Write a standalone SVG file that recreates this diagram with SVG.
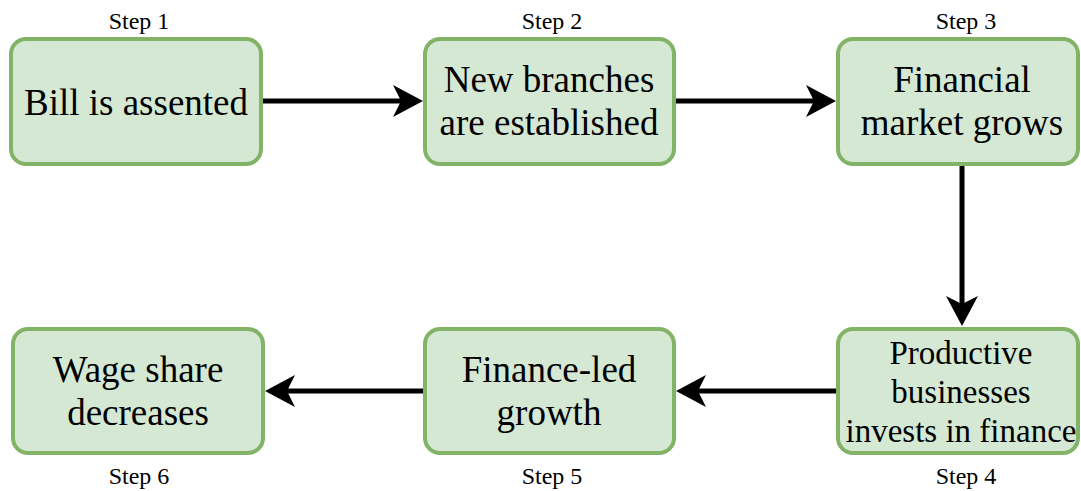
<svg xmlns="http://www.w3.org/2000/svg" width="1081" height="491" viewBox="0 0 1081 491">
<defs>
<style>
.box{fill:#d5e8d4;stroke:#82b366;stroke-width:4}
text{fill:#000;text-anchor:middle}
.t{font-size:37px}
.t4{font-size:33px}
.s{font-size:24px}
.c{stroke:#000;stroke-width:5;fill:none}
</style>
<marker id="ah" viewBox="0 0 30 32" refX="8" refY="16" markerWidth="30" markerHeight="32" markerUnits="userSpaceOnUse" orient="auto">
<path d="M30,16 L0,0 L8,16 L0,32 Z" fill="#000"/>
</marker>
</defs>
<rect width="1081" height="491" fill="#fff"/>
<g id="connectors">
<line class="c" x1="262" y1="101" x2="401" y2="101" marker-end="url(#ah)"/>
<line class="c" x1="676" y1="101" x2="814" y2="101" marker-end="url(#ah)"/>
<line class="c" x1="962" y1="166" x2="962" y2="304" marker-end="url(#ah)"/>
<line class="c" x1="836" y1="391" x2="698" y2="391" marker-end="url(#ah)"/>
<line class="c" x1="423" y1="391" x2="287" y2="391" marker-end="url(#ah)"/>
</g>
<g font-family="Liberation Serif, Times New Roman, serif">
<g id="step1">
<rect class="box" x="11" y="39" width="250" height="125" rx="15"/>
<text class="s" x="139" y="29">Step 1</text>
<text class="t" x="136" y="115">Bill is assented</text>
</g>
<g id="step2">
<rect class="box" x="425" y="39" width="249" height="125" rx="15"/>
<text class="s" x="552" y="29">Step 2</text>
<text class="t" x="549" y="92">New branches</text>
<text class="t" x="549" y="135">are established</text>
</g>
<g id="step3">
<rect class="box" x="838" y="39" width="240" height="125" rx="15"/>
<text class="s" x="966" y="29">Step 3</text>
<text class="t" x="962" y="92">Financial</text>
<text class="t" x="962" y="135">market grows</text>
</g>
<g id="step4">
<rect class="box" x="838" y="329" width="240" height="124" rx="15"/>
<text class="s" x="966" y="484">Step 4</text>
<text class="t4" x="961" y="364">Productive</text>
<text class="t4" x="961" y="403">businesses</text>
<text class="t4" x="961" y="442">invests in finance</text>
</g>
<g id="step5">
<rect class="box" x="425" y="329" width="249" height="124" rx="15"/>
<text class="s" x="552" y="484">Step 5</text>
<text class="t" x="549" y="382">Finance-led</text>
<text class="t" x="549" y="425">growth</text>
</g>
<g id="step6">
<rect class="box" x="13" y="329" width="250" height="124" rx="15"/>
<text class="s" x="139" y="484">Step 6</text>
<text class="t" x="138" y="382">Wage share</text>
<text class="t" x="138" y="425">decreases</text>
</g>
</g>
</svg>
